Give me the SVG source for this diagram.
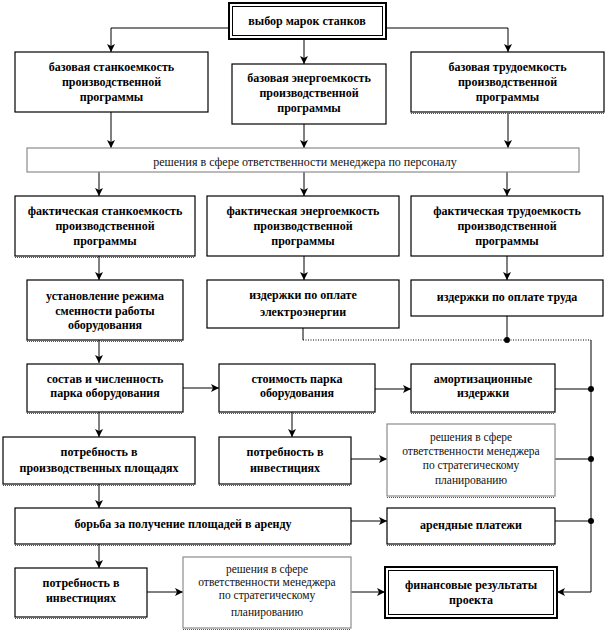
<svg xmlns="http://www.w3.org/2000/svg" width="615" height="640" viewBox="0 0 615 640">
<style>
  .box{fill:#fff;stroke:#000;stroke-width:1.2}
  .gbox{fill:#fff;stroke:#8c8c8c;stroke-width:1.2}
  .outer{fill:#fff;stroke:#000;stroke-width:2}
  .inner{fill:none;stroke:#000;stroke-width:1}
  .dot{stroke:#555;stroke-width:1;stroke-dasharray:1 1}
  .t{font-family:"Liberation Serif","Times New Roman",serif;font-size:12px;font-weight:bold;fill:#000;text-anchor:middle}
  .n{font-family:"Liberation Serif","Times New Roman",serif;font-size:11.5px;fill:#111;text-anchor:middle}
  .nb{font-size:12px}
  .c{fill:none;stroke:#000;stroke-width:1}
  .cd{fill:none;stroke:#000;stroke-width:1;stroke-dasharray:1 1.5}
  .j{fill:#000}
</style>
<defs>
  <marker id="a" markerUnits="userSpaceOnUse" markerWidth="9" markerHeight="9" refX="8" refY="4.5" orient="auto">
    <path d="M0,0.5 L8,4.5 L0,8.5 L2,4.5 Z" fill="#000"/>
  </marker>
</defs>

<g id="connectors">
  <path class="c" d="M229,28 H111 V52" marker-end="url(#a)"/>
  <path class="c" d="M304,39 V64" marker-end="url(#a)"/>
  <path class="c" d="M386,28 H508 V52" marker-end="url(#a)"/>
  <path class="c" d="M111,112 V148" marker-end="url(#a)"/>
  <path class="c" d="M304,124 V148" marker-end="url(#a)"/>
  <path class="c" d="M508,113 V148" marker-end="url(#a)"/>
  <path class="c" d="M99,172 V196" marker-end="url(#a)"/>
  <path class="c" d="M304,172 V196" marker-end="url(#a)"/>
  <path class="c" d="M507,172 V196" marker-end="url(#a)"/>
  <path class="c" d="M99,256 V280" marker-end="url(#a)"/>
  <path class="c" d="M304,256 V280" marker-end="url(#a)"/>
  <path class="c" d="M507,256 V280" marker-end="url(#a)"/>
  <path class="c" d="M99,340 V363" marker-end="url(#a)"/>
  <path class="c" d="M303,328 V340"/>
  <path class="cd" d="M303,340 H591"/>
  <path class="c" d="M507,316 V340"/>
  <path class="c" d="M591,340 V592 H557" marker-end="url(#a)"/>
  <path class="c" d="M183,388 H219" marker-end="url(#a)"/>
  <path class="c" d="M375,389 H411" marker-end="url(#a)"/>
  <path class="c" d="M555,389 H591"/>
  <path class="c" d="M99,412 V437" marker-end="url(#a)"/>
  <path class="c" d="M292,412 V437" marker-end="url(#a)"/>
  <path class="c" d="M351,459 H387" marker-end="url(#a)"/>
  <path class="c" d="M555,459 H591"/>
  <path class="c" d="M99,484 V508" marker-end="url(#a)"/>
  <path class="c" d="M351,521 H387" marker-end="url(#a)"/>
  <path class="c" d="M555,521 H591"/>
  <path class="c" d="M99,544 V568" marker-end="url(#a)"/>
  <path class="c" d="M147,592 H183" marker-end="url(#a)"/>
  <path class="c" d="M351,592 H385" marker-end="url(#a)"/>
  <circle class="j" cx="507" cy="340" r="3"/>
  <circle class="j" cx="591" cy="389" r="3"/>
  <circle class="j" cx="591" cy="459" r="3"/>
  <circle class="j" cx="591" cy="521" r="3"/>
</g>

<g id="n1">
  <rect class="outer" x="229" y="3" width="157" height="36"/>
  <rect class="inner" x="232.5" y="6.5" width="150" height="29"/>
  <text class="t" x="307" y="25">выбор марок станков</text>
</g>
<g id="n2">
  <rect class="box" x="15" y="52" width="193" height="60"/>
  <text class="t" x="111.5" y="71">базовая станкоемкость</text>
  <text class="t" x="111.5" y="86">производственной</text>
  <text class="t" x="111.5" y="101">программы</text>
</g>
<g id="n3">
  <rect class="box" x="232" y="64" width="154" height="60"/>
  <text class="t" x="309" y="82">базовая энергоемкость</text>
  <text class="t" x="309" y="97">производственной</text>
  <text class="t" x="309" y="112">программы</text>
</g>
<g id="n4">
  <rect class="box" x="411" y="52" width="193" height="60"/>
  <line class="dot" x1="411" y1="113.5" x2="604" y2="113.5"/>
  <text class="t" x="507.5" y="71">базовая трудоемкость</text>
  <text class="t" x="507.5" y="86">производственной</text>
  <text class="t" x="507.5" y="101">программы</text>
</g>
<g id="n5">
  <rect class="gbox" x="27" y="148" width="552" height="24"/>
  <text class="n nb" x="305" y="166">решения в сфере ответственности  менеджера по персоналу</text>
</g>
<g id="n6">
  <rect class="box" x="15" y="196" width="180" height="60"/>
  <line class="dot" x1="15" y1="257.5" x2="195" y2="257.5"/>
  <text class="t" x="105" y="215">фактическая станкоемкость</text>
  <text class="t" x="105" y="230">производственной</text>
  <text class="t" x="105" y="245">программы</text>
</g>
<g id="n7">
  <rect class="box" x="207" y="196" width="192" height="60"/>
  <text class="t" x="303" y="215">фактическая энергоемкость</text>
  <text class="t" x="303" y="230">производственной</text>
  <text class="t" x="303" y="245">программы</text>
</g>
<g id="n8">
  <rect class="box" x="411" y="196" width="192" height="60"/>
  <text class="t" x="507" y="215">фактическая трудоемкость</text>
  <text class="t" x="507" y="230">производственной</text>
  <text class="t" x="507" y="245">программы</text>
</g>
<g id="n9">
  <rect class="box" x="27" y="280" width="156" height="60"/>
  <line class="dot" x1="27" y1="341.5" x2="183" y2="341.5"/>
  <text class="t" x="105" y="300">установление  режима</text>
  <text class="t" x="105" y="314.5">сменности работы</text>
  <text class="t" x="105" y="329">оборудования</text>
</g>
<g id="n10">
  <rect class="box" x="207" y="280" width="192" height="48"/>
  <text class="t" x="303" y="299">издержки по оплате</text>
  <text class="t" x="303" y="316">электроэнергии</text>
</g>
<g id="n11">
  <rect class="box" x="411" y="280" width="192" height="36"/>
  <text class="t" x="507" y="301">издержки по оплате труда</text>
</g>
<g id="n12">
  <rect class="box" x="27" y="364" width="156" height="48"/>
  <line class="dot" x1="27" y1="413.5" x2="183" y2="413.5"/>
  <text class="t" x="105" y="383">состав и численность</text>
  <text class="t" x="105" y="397">парка оборудования</text>
</g>
<g id="n13">
  <rect class="box" x="219" y="364" width="156" height="48"/>
  <line class="dot" x1="219" y1="413.5" x2="375" y2="413.5"/>
  <text class="t" x="297" y="383">стоимость парка</text>
  <text class="t" x="297" y="397">оборудования</text>
</g>
<g id="n14">
  <rect class="box" x="411" y="364" width="144" height="48"/>
  <line class="dot" x1="411" y1="413.5" x2="555" y2="413.5"/>
  <text class="t" x="483" y="383">амортизационные</text>
  <text class="t" x="483" y="397">издержки</text>
</g>
<g id="n15">
  <rect class="box" x="3" y="437" width="192" height="47"/>
  <line class="dot" x1="3" y1="485.5" x2="195" y2="485.5"/>
  <text class="t" x="99" y="456">потребность в</text>
  <text class="t" x="99" y="472">производственных  площадях</text>
</g>
<g id="n16">
  <rect class="box" x="219" y="437" width="132" height="47"/>
  <line class="dot" x1="219" y1="485.5" x2="351" y2="485.5"/>
  <text class="t" x="285" y="456">потребность в</text>
  <text class="t" x="285" y="472">инвестициях</text>
</g>
<g id="n17">
  <rect class="gbox" x="387" y="424" width="168" height="72"/>
  <line class="dot" x1="387" y1="497.5" x2="555" y2="497.5"/>
  <text class="n" x="471" y="441">решения в сфере</text>
  <text class="n" x="471" y="455">ответственности  менеджера</text>
  <text class="n" x="471" y="469">по стратегическому</text>
  <text class="n" x="471" y="484">планированию</text>
</g>
<g id="n18">
  <rect class="box" x="15" y="508" width="336" height="36"/>
  <line class="dot" x1="15" y1="545.5" x2="351" y2="545.5"/>
  <text class="t" x="183" y="528">борьба за получение площадей в аренду</text>
</g>
<g id="n19">
  <rect class="box" x="387" y="508" width="168" height="36"/>
  <line class="dot" x1="387" y1="545.5" x2="555" y2="545.5"/>
  <text class="t" x="471" y="529">арендные платежи</text>
</g>
<g id="n20">
  <rect class="box" x="15" y="568" width="132" height="49"/>
  <line class="dot" x1="15" y1="618.5" x2="147" y2="618.5"/>
  <text class="t" x="81" y="587">потребность в</text>
  <text class="t" x="81" y="602">инвестициях</text>
</g>
<g id="n21">
  <rect class="gbox" x="183" y="557" width="168" height="71"/>
  <line class="dot" x1="183" y1="629.5" x2="351" y2="629.5"/>
  <text class="n" x="267" y="573">решения в сфере</text>
  <text class="n" x="267" y="586">ответственности  менеджера</text>
  <text class="n" x="267" y="599">по стратегическому</text>
  <text class="n" x="267" y="616">планированию</text>
</g>
<g id="n22">
  <rect class="outer" x="385" y="567" width="172" height="51"/>
  <rect class="inner" x="388.5" y="570.5" width="165" height="44"/>
  <text class="t" x="471" y="589">финансовые результаты</text>
  <text class="t" x="471" y="604">проекта</text>
</g>
</svg>
